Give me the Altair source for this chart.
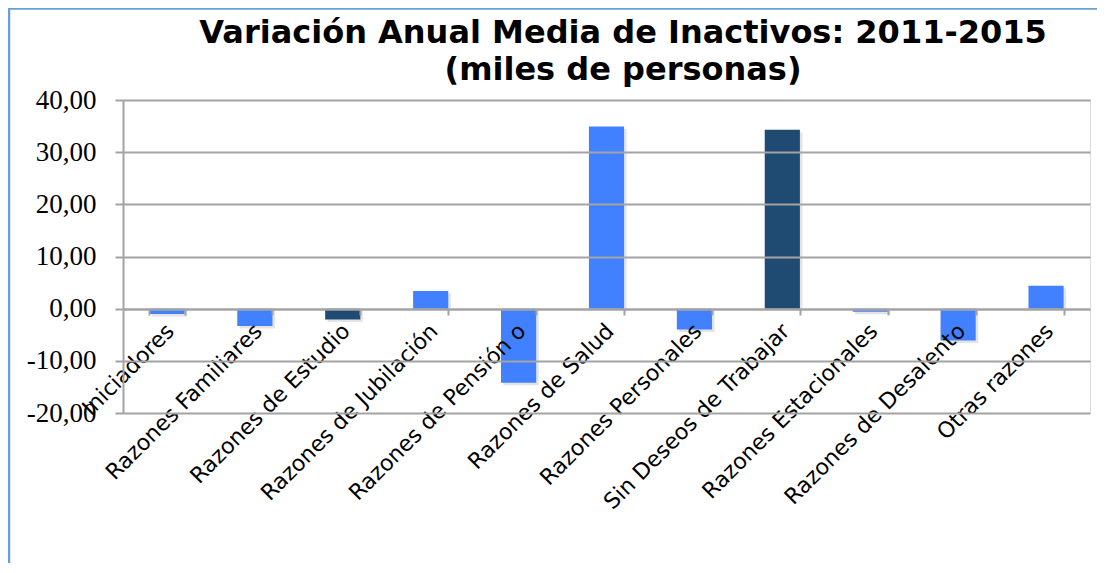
import altair as alt
import pandas as pd

categorias = [
    "Iniciadores",
    "Razones Familiares",
    "Razones de Estudio",
    "Razones de Jubilación",
    "Razones de Pensión o",
    "Razones de Salud",
    "Razones Personales",
    "Sin Deseos de Trabajar",
    "Razones Estacionales",
    "Razones de Desalento",
    "Otras razones",
]
valores = [-1.0, -3.3, -2.1, 3.4, -14.2, 34.9, -4.0, 34.3, -0.6, -6.1, 4.4]
destacados = ["Razones de Estudio", "Sin Deseos de Trabajar"]
ticks_y = [-20, -10, 0, 10, 20, 30, 40]
titulo = ["Variación Anual Media de Inactivos: 2011-2015", "(miles de personas)"]

df = pd.DataFrame({"categoria": categorias, "valor": valores})

W, H = 967, 313
AZUL = "#4181FF"
OSCURO = "#1F4A72"
GRIS = "#A3A3A3"

x_enc = alt.X(
    "categoria:N",
    sort=categorias,
    title=None,
    scale=alt.Scale(paddingInner=0.6, paddingOuter=0.3),
    axis=alt.Axis(
        offset=-104,
        zindex=1,
        labelAngle=-45,
        labelAlign="right",
        labelBaseline="top",
        labelFont="DejaVu Sans",
        labelFontSize=22,
        labelColor="#000000",
        labelPadding=5,
        labelOffset=-4,
        labelOverlap=False,
        labelLimit=400,
        tickBand="extent",
        tickSize=6,
        tickColor=GRIS,
        tickWidth=2,
        domainColor=GRIS,
        domainWidth=2,
        grid=False,
    ),
)

y_enc = alt.Y(
    "valor:Q",
    title=None,
    scale=alt.Scale(domain=[-20, 40], nice=False, zero=False),
    axis=alt.Axis(
        values=ticks_y,
        zindex=2,
        labelExpr="(datum.value < 0 ? '-' : '') + replace(format(abs(datum.value), '.2f'), '.', ',')",
        labelFont="Liberation Serif",
        labelFontSize=27,
        labelColor="#000000",
        labelPadding=19,
        tickSize=8,
        tickColor=GRIS,
        tickWidth=2,
        domainColor=GRIS,
        domainWidth=2,
        gridColor=GRIS,
        gridWidth=2,
    ),
)

sombra = alt.Chart(df).mark_bar(
    color="#7F7F7F", opacity=0.22, xOffset=2.5, yOffset=2.5
).encode(
    x=x_enc,
    y=y_enc,
    y2=alt.datum(0),
)

bars = alt.Chart(df).mark_bar().encode(
    x=x_enc,
    y=y_enc,
    y2=alt.datum(0),
    color=alt.condition(
        alt.FieldOneOfPredicate(field="categoria", oneOf=destacados),
        alt.value(OSCURO),
        alt.value(AZUL),
    ),
)

borde = alt.Chart(alt.Data(values=[{"b": 1}])).mark_rect(
    fillOpacity=0, stroke="#6A9FD4", strokeWidth=2.5, clip=False
).encode(
    x=alt.value(-114),
    x2=alt.value(1000),
    y=alt.value(-91.5),
    y2=alt.value(520),
)


def linea_titulo(texto, ypos):
    return alt.Chart(alt.Data(values=[{"t": texto}])).mark_text(
        font="DejaVu Sans",
        fontSize=32,
        fontWeight="bold",
        color="#000000",
        align="center",
        baseline="middle",
    ).encode(
        text="t:N",
        x=alt.value(500),
        y=alt.value(ypos),
    )


chart = alt.layer(
    sombra, bars, borde, linea_titulo(titulo[0], -67), linea_titulo(titulo[1], -30)
).properties(
    width=W,
    height=H,
    autosize=alt.AutoSizeParams(type="none"),
    padding={"left": 115, "top": 92, "right": 7, "bottom": 150},
).configure_view(stroke=None).configure(background="white")

chart.save("out.html", embed_options={"renderer": "svg", "actions": False})
